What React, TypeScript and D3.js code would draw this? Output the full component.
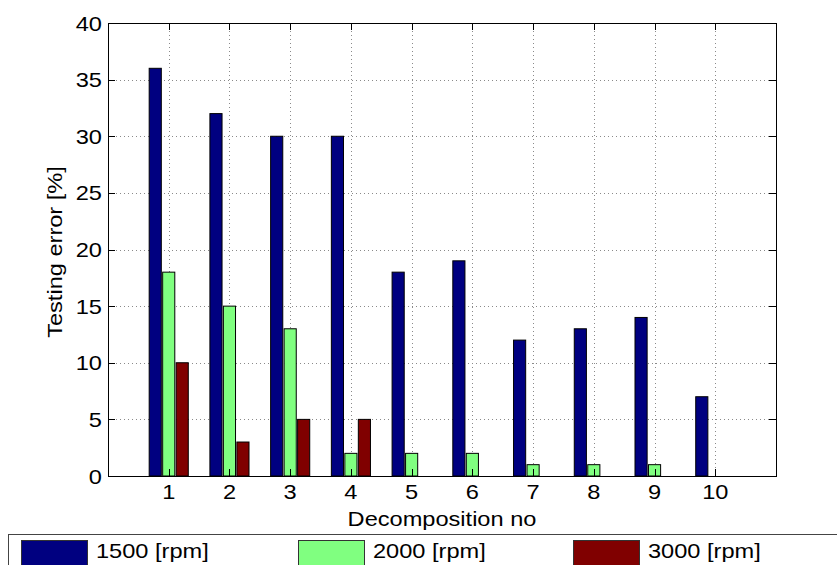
import React from "react";
import * as d3 from "d3";

// values
const categories = [1, 2, 3, 4, 5, 6, 7, 8, 9, 10];
const rpm1500 = [36, 32, 30, 30, 18, 19, 12, 13, 14, 7];
const rpm2000 = [18, 15, 13, 2, 2, 2, 1, 1, 1, 0];
const rpm3000 = [10, 3, 5, 5, 0, 0, 0, 0, 0, 0];
const seriesNames = ["1500 [rpm]", "2000 [rpm]", "3000 [rpm]"];
const yTicks = [0, 5, 10, 15, 20, 25, 30, 35, 40];

const colors = ["#000080", "#80ff80", "#800000"];
const font = "'Liberation Sans', Arial, sans-serif";
const stretch = 1.18; // the original font is a bit wider than Arial

// text stretched horizontally like the figure's font
const Label = ({ x, y, anchor = "start", rotate = 0, children }: any) => (
    <text
        transform={`translate(${x},${y}) rotate(${rotate}) scale(${stretch},1)`}
        textAnchor={anchor}
        fontSize={20}
        fill="#000"
    >
        {children}
    </text>
);

const App = () => {
    const margin = { left: 108, top: 23, right: 776, bottom: 476 };

    const x = d3.scaleLinear().domain([0, 11]).range([margin.left, margin.right]);
    const y = d3.scaleLinear().domain([0, 40]).range([margin.bottom, margin.top]);
    // position of each series inside a group, in x units
    const inner = d3
        .scaleBand<number>()
        .domain([0, 1, 2])
        .range([-0.333, 0.333])
        .paddingInner(0.1)
        .paddingOuter(0.05);

    const series = [rpm1500, rpm2000, rpm3000];
    const tickLen = 7;

    // legend slots
    const legendX = [21, 298, 573];

    return (
        <svg
            width={837}
            height={565}
            style={{ position: "absolute", left: 0, top: 0, background: "#fff" }}
            fontFamily={font}
        >
            {/* grid */}
            <g stroke="#8a8a8a" strokeWidth={1} strokeDasharray="1 3">
                {categories.map((c) => (
                    <line key={"gx" + c} x1={Math.round(x(c)) + 0.5} x2={Math.round(x(c)) + 0.5} y1={margin.top} y2={margin.bottom} />
                ))}
                {yTicks.slice(1, -1).map((t) => (
                    <line key={"gy" + t} x1={margin.left} x2={margin.right} y1={Math.round(y(t)) + 0.5} y2={Math.round(y(t)) + 0.5} />
                ))}
            </g>

            {/* bars */}
            {series.map((vals, si) => (
                <g key={si} fill={colors[si]} stroke="#000" strokeWidth={1}>
                    {vals.map((v, i) =>
                        v > 0 ? (
                            <rect
                                key={i}
                                x={x(categories[i] + (inner(si) as number))}
                                width={x(inner.bandwidth()) - x(0)}
                                y={y(v)}
                                height={y(0) - y(v)}
                            />
                        ) : null
                    )}
                </g>
            ))}

            {/* axes box and ticks */}
            <rect
                x={margin.left + 0.5}
                y={margin.top + 0.5}
                width={margin.right - margin.left}
                height={margin.bottom - margin.top}
                fill="none"
                stroke="#000"
            />
            <g stroke="#000" strokeWidth={1}>
                {categories.map((c) => {
                    const px = Math.round(x(c)) + 0.5;
                    return (
                        <g key={"tx" + c}>
                            <line x1={px} x2={px} y1={margin.bottom} y2={margin.bottom - tickLen} />
                            <line x1={px} x2={px} y1={margin.top} y2={margin.top + tickLen} />
                        </g>
                    );
                })}
                {yTicks.map((t) => {
                    const py = Math.round(y(t)) + 0.5;
                    return (
                        <g key={"ty" + t}>
                            <line x1={margin.left} x2={margin.left + tickLen} y1={py} y2={py} />
                            <line x1={margin.right} x2={margin.right - tickLen} y1={py} y2={py} />
                        </g>
                    );
                })}
            </g>

            {/* tick labels */}
            {categories.map((c) => (
                <Label key={"lx" + c} x={x(c)} y={499} anchor="middle">
                    {c}
                </Label>
            ))}
            {yTicks.map((t) => (
                <Label key={"ly" + t} x={102} y={y(t) + 7.5} anchor="end">
                    {t}
                </Label>
            ))}

            {/* axis titles */}
            <Label x={(margin.left + margin.right) / 2} y={526} anchor="middle">
                Decomposition no
            </Label>
            <Label x={62} y={252} anchor="middle" rotate={-90}>
                Testing error [%]
            </Label>

            {/* legend */}
            <rect x={8.5} y={534.5} width={900} height={60} fill="#fff" stroke="#444" />
            {seriesNames.map((name, i) => (
                <g key={name}>
                    <rect x={legendX[i] + 0.5} y={540.5} width={66} height={30} fill={colors[i]} stroke="#333" />
                    <Label x={legendX[i] + 75} y={558}>
                        {name}
                    </Label>
                </g>
            ))}
        </svg>
    );
};

export default App;
